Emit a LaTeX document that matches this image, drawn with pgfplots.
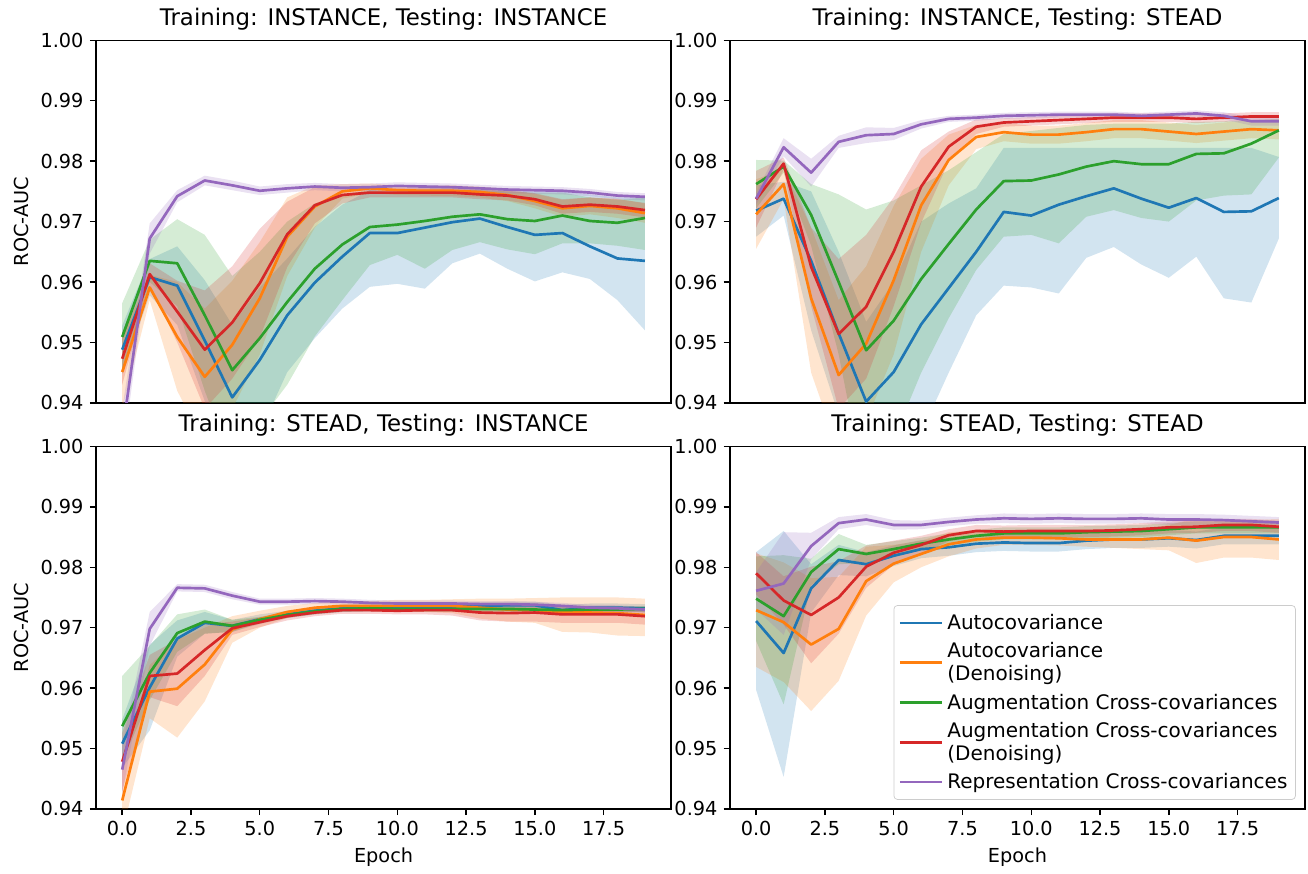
\documentclass[border=0pt]{standalone}
\usepackage{fontspec}
\setmainfont{DejaVu Sans}
\usepackage{pgfplots}
\pgfplotsset{compat=1.18}
\usepackage{pgfplotstable}
\usepgfplotslibrary{fillbetween}
\definecolor{cB}{HTML}{1F77B4}
\definecolor{cO}{HTML}{FF7F0E}
\definecolor{cG}{HTML}{2CA02C}
\definecolor{cR}{HTML}{D62728}
\definecolor{cP}{HTML}{9467BD}

\pgfplotstableread{
e bm bl bh om ol oh gm gl gh rm rl rh pm pl ph
0 0.9488 0.9448 0.9528 0.9451 0.9390 0.9510 0.9509 0.9455 0.9565 0.9473 0.9430 0.9516 0.9349 0.9309 0.9389
1 0.9608 0.9578 0.9638 0.9591 0.9570 0.9612 0.9635 0.9600 0.9670 0.9613 0.9595 0.9631 0.9672 0.9647 0.9697
2 0.9594 0.9529 0.9659 0.9509 0.9420 0.9600 0.9631 0.9560 0.9704 0.9551 0.9500 0.9602 0.9742 0.9732 0.9752
3 0.9503 0.9403 0.9603 0.9443 0.9330 0.9556 0.9545 0.9420 0.9678 0.9488 0.9390 0.9586 0.9768 0.9760 0.9776
4 0.9409 0.9289 0.9529 0.9496 0.9390 0.9602 0.9454 0.9300 0.9610 0.9533 0.9440 0.9626 0.9760 0.9752 0.9768
5 0.9471 0.9351 0.9591 0.9573 0.9480 0.9666 0.9507 0.9370 0.9650 0.9598 0.9508 0.9688 0.9751 0.9744 0.9758
6 0.9545 0.9451 0.9639 0.9675 0.9610 0.9740 0.9567 0.9430 0.9700 0.9679 0.9625 0.9733 0.9755 0.9748 0.9762
7 0.9599 0.9507 0.9691 0.9725 0.9690 0.9760 0.9622 0.9510 0.9730 0.9727 0.9697 0.9757 0.9758 0.9752 0.9764
8 0.9642 0.9556 0.9728 0.9750 0.9738 0.9762 0.9662 0.9570 0.9745 0.9744 0.9730 0.9758 0.9756 0.9750 0.9762
9 0.9681 0.9592 0.9752 0.9755 0.9747 0.9763 0.9691 0.9628 0.9752 0.9748 0.9740 0.9756 0.9757 0.9751 0.9763
10 0.9681 0.9597 0.9754 0.9752 0.9744 0.9760 0.9695 0.9645 0.9748 0.9748 0.9740 0.9756 0.9759 0.9753 0.9765
11 0.9690 0.9589 0.9755 0.9751 0.9743 0.9759 0.9701 0.9622 0.9750 0.9748 0.9740 0.9756 0.9758 0.9752 0.9764
12 0.9699 0.9631 0.9756 0.9751 0.9742 0.9760 0.9708 0.9653 0.9752 0.9748 0.9740 0.9756 0.9757 0.9751 0.9763
13 0.9705 0.9647 0.9757 0.9749 0.9740 0.9758 0.9712 0.9666 0.9752 0.9745 0.9737 0.9753 0.9755 0.9749 0.9761
14 0.9691 0.9622 0.9754 0.9744 0.9734 0.9754 0.9704 0.9654 0.9750 0.9743 0.9735 0.9751 0.9753 0.9747 0.9759
15 0.9678 0.9601 0.9752 0.9734 0.9722 0.9746 0.9701 0.9646 0.9748 0.9737 0.9727 0.9747 0.9752 0.9746 0.9758
16 0.9681 0.9616 0.9750 0.9722 0.9708 0.9736 0.9710 0.9664 0.9748 0.9725 0.9713 0.9737 0.9751 0.9745 0.9757
17 0.9659 0.9605 0.9745 0.9726 0.9712 0.9740 0.9701 0.9664 0.9740 0.9728 0.9716 0.9740 0.9748 0.9742 0.9754
18 0.9639 0.9570 0.9740 0.9722 0.9706 0.9738 0.9698 0.9660 0.9736 0.9725 0.9713 0.9737 0.9743 0.9737 0.9749
19 0.9635 0.9520 0.9740 0.9714 0.9698 0.9730 0.9706 0.9653 0.9740 0.9719 0.9707 0.9731 0.9741 0.9735 0.9747
}\tA

\pgfplotstableread{
e bm bl bh om ol oh gm gl gh rm rl rh pm pl ph
0 0.9718 0.9675 0.9760 0.9712 0.9655 0.9770 0.9762 0.9722 0.9802 0.9737 0.9690 0.9784 0.9738 0.9728 0.9748
1 0.9738 0.9710 0.9766 0.9762 0.9737 0.9787 0.9791 0.9781 0.9801 0.9796 0.9786 0.9806 0.9823 0.9808 0.9838
2 0.9635 0.9520 0.9750 0.9573 0.9450 0.9690 0.9711 0.9660 0.9762 0.9625 0.9560 0.9690 0.9781 0.9758 0.9804
3 0.9515 0.9380 0.9650 0.9446 0.9320 0.9570 0.9600 0.9480 0.9745 0.9514 0.9390 0.9638 0.9832 0.9822 0.9842
4 0.9402 0.9270 0.9534 0.9498 0.9370 0.9626 0.9487 0.9250 0.9720 0.9559 0.9440 0.9678 0.9843 0.9830 0.9856
5 0.9451 0.9300 0.9600 0.9603 0.9480 0.9726 0.9536 0.9340 0.9735 0.9650 0.9560 0.9740 0.9845 0.9835 0.9855
6 0.9530 0.9350 0.9700 0.9727 0.9650 0.9804 0.9605 0.9450 0.9760 0.9758 0.9698 0.9818 0.9861 0.9854 0.9868
7 0.9590 0.9450 0.9730 0.9802 0.9760 0.9844 0.9663 0.9540 0.9785 0.9824 0.9799 0.9849 0.9870 0.9865 0.9875
8 0.9650 0.9545 0.9755 0.9840 0.9820 0.9860 0.9720 0.9620 0.9815 0.9857 0.9845 0.9869 0.9872 0.9867 0.9877
9 0.9716 0.9594 0.9822 0.9848 0.9833 0.9863 0.9767 0.9675 0.9845 0.9864 0.9857 0.9871 0.9875 0.9870 0.9880
10 0.9710 0.9591 0.9822 0.9844 0.9829 0.9859 0.9768 0.9678 0.9850 0.9866 0.9859 0.9873 0.9876 0.9871 0.9881
11 0.9728 0.9581 0.9822 0.9844 0.9829 0.9859 0.9778 0.9664 0.9855 0.9868 0.9861 0.9875 0.9877 0.9872 0.9882
12 0.9742 0.9640 0.9822 0.9848 0.9833 0.9863 0.9791 0.9708 0.9860 0.9870 0.9863 0.9877 0.9877 0.9872 0.9882
13 0.9755 0.9658 0.9822 0.9853 0.9838 0.9868 0.9800 0.9719 0.9862 0.9872 0.9865 0.9879 0.9877 0.9872 0.9882
14 0.9738 0.9629 0.9822 0.9853 0.9838 0.9868 0.9795 0.9706 0.9862 0.9872 0.9865 0.9879 0.9875 0.9870 0.9880
15 0.9723 0.9607 0.9822 0.9849 0.9834 0.9864 0.9795 0.9700 0.9862 0.9872 0.9865 0.9879 0.9877 0.9872 0.9882
16 0.9739 0.9642 0.9822 0.9845 0.9830 0.9860 0.9812 0.9735 0.9865 0.9870 0.9863 0.9877 0.9879 0.9874 0.9884
17 0.9716 0.9573 0.9822 0.9849 0.9834 0.9864 0.9813 0.9743 0.9866 0.9872 0.9865 0.9879 0.9875 0.9869 0.9881
18 0.9717 0.9566 0.9822 0.9853 0.9838 0.9868 0.9829 0.9745 0.9868 0.9874 0.9867 0.9881 0.9866 0.9859 0.9873
19 0.9739 0.9672 0.9807 0.9851 0.9836 0.9866 0.9851 0.9806 0.9870 0.9874 0.9867 0.9881 0.9866 0.9859 0.9873
}\tB

\pgfplotstableread{
e bm bl bh om ol oh gm gl gh rm rl rh pm pl ph
0 0.9508 0.9468 0.9548 0.9414 0.9360 0.9468 0.9537 0.9480 0.9620 0.9478 0.9430 0.9526 0.9465 0.9425 0.9505
1 0.9601 0.9530 0.9672 0.9594 0.9550 0.9638 0.9625 0.9580 0.9670 0.9620 0.9585 0.9655 0.9698 0.9670 0.9726
2 0.9682 0.9652 0.9712 0.9599 0.9518 0.9680 0.9691 0.9660 0.9722 0.9624 0.9570 0.9680 0.9766 0.9760 0.9772
3 0.9708 0.9690 0.9726 0.9639 0.9578 0.9700 0.9710 0.9690 0.9730 0.9663 0.9620 0.9706 0.9765 0.9759 0.9771
4 0.9703 0.9693 0.9713 0.9697 0.9675 0.9719 0.9703 0.9693 0.9713 0.9699 0.9688 0.9710 0.9753 0.9747 0.9759
5 0.9714 0.9706 0.9722 0.9714 0.9700 0.9728 0.9713 0.9708 0.9718 0.9709 0.9701 0.9717 0.9743 0.9738 0.9748
6 0.9722 0.9716 0.9728 0.9726 0.9716 0.9736 0.9721 0.9716 0.9726 0.9719 0.9712 0.9726 0.9743 0.9738 0.9748
7 0.9728 0.9722 0.9734 0.9733 0.9725 0.9741 0.9727 0.9722 0.9732 0.9725 0.9719 0.9731 0.9744 0.9739 0.9749
8 0.9732 0.9726 0.9738 0.9736 0.9728 0.9744 0.9731 0.9726 0.9736 0.9729 0.9723 0.9735 0.9743 0.9738 0.9748
9 0.9733 0.9727 0.9739 0.9736 0.9728 0.9744 0.9732 0.9727 0.9737 0.9729 0.9723 0.9735 0.9741 0.9736 0.9746
10 0.9734 0.9728 0.9740 0.9736 0.9727 0.9746 0.9731 0.9726 0.9736 0.9728 0.9722 0.9734 0.9740 0.9735 0.9745
11 0.9734 0.9728 0.9740 0.9736 0.9726 0.9746 0.9731 0.9726 0.9736 0.9729 0.9722 0.9736 0.9740 0.9735 0.9745
12 0.9735 0.9729 0.9741 0.9736 0.9724 0.9747 0.9731 0.9726 0.9736 0.9729 0.9720 0.9738 0.9740 0.9735 0.9745
13 0.9736 0.9730 0.9742 0.9733 0.9715 0.9748 0.9731 0.9726 0.9736 0.9725 0.9712 0.9738 0.9739 0.9734 0.9744
14 0.9737 0.9731 0.9743 0.9730 0.9710 0.9748 0.9731 0.9726 0.9736 0.9724 0.9710 0.9738 0.9739 0.9734 0.9744
15 0.9737 0.9731 0.9743 0.9729 0.9708 0.9749 0.9730 0.9725 0.9735 0.9725 0.9710 0.9740 0.9738 0.9733 0.9743
16 0.9729 0.9720 0.9738 0.9725 0.9693 0.9750 0.9729 0.9724 0.9734 0.9722 0.9708 0.9736 0.9736 0.9731 0.9741
17 0.9733 0.9726 0.9740 0.9725 0.9692 0.9750 0.9730 0.9725 0.9735 0.9722 0.9708 0.9736 0.9733 0.9728 0.9738
18 0.9733 0.9726 0.9740 0.9724 0.9687 0.9750 0.9730 0.9725 0.9735 0.9722 0.9708 0.9736 0.9732 0.9727 0.9737
19 0.9732 0.9725 0.9739 0.9721 0.9686 0.9748 0.9731 0.9726 0.9736 0.9719 0.9705 0.9733 0.9730 0.9725 0.9735
}\tC

\pgfplotstableread{
e bm bl bh om ol oh gm gl gh rm rl rh pm pl ph
0 0.9711 0.9597 0.9825 0.9729 0.9635 0.9823 0.9748 0.9678 0.9818 0.9790 0.9755 0.9825 0.9761 0.9730 0.9792
1 0.9658 0.9453 0.9860 0.9709 0.9610 0.9808 0.9719 0.9573 0.9820 0.9745 0.9705 0.9785 0.9773 0.9688 0.9858
2 0.9765 0.9725 0.9805 0.9672 0.9562 0.9782 0.9792 0.9770 0.9814 0.9721 0.9641 0.9801 0.9835 0.9813 0.9857
3 0.9812 0.9787 0.9837 0.9698 0.9612 0.9784 0.9830 0.9805 0.9855 0.9750 0.9690 0.9810 0.9873 0.9863 0.9883
4 0.9805 0.9785 0.9825 0.9777 0.9720 0.9834 0.9822 0.9807 0.9837 0.9801 0.9766 0.9836 0.9879 0.9870 0.9888
5 0.9819 0.9802 0.9836 0.9806 0.9775 0.9837 0.9830 0.9817 0.9843 0.9824 0.9804 0.9844 0.9870 0.9862 0.9878
6 0.9830 0.9815 0.9845 0.9822 0.9800 0.9844 0.9839 0.9829 0.9849 0.9837 0.9822 0.9852 0.9870 0.9863 0.9877
7 0.9833 0.9819 0.9847 0.9838 0.9818 0.9858 0.9846 0.9836 0.9856 0.9853 0.9843 0.9863 0.9875 0.9868 0.9882
8 0.9839 0.9825 0.9853 0.9846 0.9831 0.9861 0.9852 0.9842 0.9862 0.9860 0.9850 0.9870 0.9879 0.9872 0.9886
9 0.9841 0.9827 0.9855 0.9849 0.9837 0.9861 0.9856 0.9846 0.9866 0.9859 0.9849 0.9869 0.9881 0.9873 0.9889
10 0.9840 0.9826 0.9854 0.9849 0.9837 0.9861 0.9856 0.9846 0.9866 0.9860 0.9850 0.9870 0.9880 0.9872 0.9888
11 0.9840 0.9826 0.9854 0.9848 0.9836 0.9860 0.9856 0.9846 0.9866 0.9860 0.9850 0.9870 0.9881 0.9873 0.9889
12 0.9844 0.9830 0.9858 0.9846 0.9834 0.9858 0.9858 0.9848 0.9868 0.9860 0.9850 0.9870 0.9880 0.9872 0.9888
13 0.9846 0.9832 0.9860 0.9846 0.9832 0.9860 0.9859 0.9849 0.9869 0.9861 0.9851 0.9871 0.9880 0.9872 0.9888
14 0.9846 0.9832 0.9860 0.9846 0.9830 0.9862 0.9860 0.9850 0.9870 0.9863 0.9853 0.9873 0.9881 0.9873 0.9889
15 0.9848 0.9834 0.9862 0.9849 0.9828 0.9870 0.9863 0.9853 0.9873 0.9866 0.9856 0.9876 0.9879 0.9870 0.9888
16 0.9845 0.9831 0.9859 0.9844 0.9807 0.9881 0.9866 0.9856 0.9876 0.9867 0.9857 0.9877 0.9879 0.9870 0.9888
17 0.9852 0.9838 0.9866 0.9850 0.9816 0.9878 0.9866 0.9856 0.9876 0.9870 0.9860 0.9880 0.9878 0.9869 0.9887
18 0.9852 0.9838 0.9866 0.9850 0.9816 0.9878 0.9866 0.9856 0.9876 0.9870 0.9860 0.9880 0.9876 0.9867 0.9885
19 0.9852 0.9838 0.9866 0.9846 0.9812 0.9880 0.9866 0.9856 0.9876 0.9867 0.9857 0.9877 0.9874 0.9865 0.9883
}\tD

\newcommand{\band}[4]{%
  \addplot[name path=#2, draw=none, forget plot] table[x=e,y=#2]{#1};
  \addplot[name path=#3, draw=none, forget plot] table[x=e,y=#3]{#1};
  \addplot[fill=#4, fill opacity=0.2, draw=none, forget plot] fill between[of=#2 and #3];
}
\newcommand{\allplots}[1]{%
  \band{#1}{bl}{bh}{cB}
  \band{#1}{ol}{oh}{cO}
  \band{#1}{gl}{gh}{cG}
  \band{#1}{rl}{rh}{cR}
  \band{#1}{pl}{ph}{cP}
  \addplot[cB, line width=1.5pt] table[x=e,y=bm]{#1};
  \addplot[cO, line width=1.5pt] table[x=e,y=om]{#1};
  \addplot[cG, line width=1.5pt] table[x=e,y=gm]{#1};
  \addplot[cR, line width=1.5pt] table[x=e,y=rm]{#1};
  \addplot[cP, line width=1.5pt] table[x=e,y=pm]{#1};
}

\pgfplotsset{
  base/.style={
    width=322pt, height=203pt, scale only axis,
    anchor=south west,
    xmin=-0.95, xmax=19.95, ymin=0.94, ymax=1.0,
    ytick={0.94,0.95,0.96,0.97,0.98,0.99,1.00},
    xtick={0,2.5,5,7.5,10,12.5,15,17.5},
    /pgf/number format/assume math mode=true,
    ticklabel style={font=\fontsize{10.8}{13}\selectfont},
    label style={font=\fontsize{10.8}{13}\selectfont},
    yticklabel style={/pgf/number format/fixed,/pgf/number format/precision=2,/pgf/number format/fixed zerofill},
    xticklabel style={/pgf/number format/fixed,/pgf/number format/precision=1,/pgf/number format/fixed zerofill},
    tick align=outside, major tick length=3.5pt,
    xtick pos=bottom, ytick pos=left,
    axis line style={line width=0.8pt},
    tick style={line width=0.8pt, black},
    title style={font=\fontsize{12.8}{15.4}\selectfont, yshift=-4pt},
    no markers,
    every axis plot/.append style={line join=round},
  },
  toprow/.style={xtick=\empty},
}

\begin{document}
\begin{tikzpicture}

\begin{axis}[base, toprow, at={(53.8pt,263.8pt)}, ylabel={ROC-AUC},
  title={Training: INSTANCE, Testing: INSTANCE}]
\allplots{\tA}
\end{axis}

\begin{axis}[base, toprow, at={(408.8pt,263.8pt)},
  title={Training: INSTANCE, Testing: STEAD}]
\allplots{\tB}
\end{axis}

\begin{axis}[base, at={(53.8pt,36.4pt)}, ylabel={ROC-AUC}, xlabel={Epoch},
  title={Training: STEAD, Testing: INSTANCE}]
\allplots{\tC}
\end{axis}

\begin{axis}[base, at={(408.8pt,36.4pt)}, xlabel={Epoch},
  title={Training: STEAD, Testing: STEAD},
  legend cell align=left,
  legend style={at={(0.984,0.025)}, anchor=south east, draw=black!20,
    rounded corners=2pt, fill=white, fill opacity=0.8, text opacity=1,
    inner sep=2.5pt, row sep=1.3pt,
    cells={align=left, inner ysep=1pt, inner xsep=3.9pt},
    font=\fontsize{11.2}{12.9}\selectfont},
  legend image code/.code={\draw[#1] (0pt,0pt) -- (23.9pt,0pt);}]
\allplots{\tD}
\addlegendentry{\strut Autocovariance}
\addlegendentry{\strut Autocovariance\\\strut(Denoising)}
\addlegendentry{\strut Augmentation Cross-covariances}
\addlegendentry{\strut Augmentation Cross-covariances\\\strut(Denoising)}
\addlegendentry{\strut Representation Cross-covariances}
\end{axis}

\pgfresetboundingbox
\useasboundingbox (0,0) rectangle (732.5pt,489.4pt);
\end{tikzpicture}
\end{document}
